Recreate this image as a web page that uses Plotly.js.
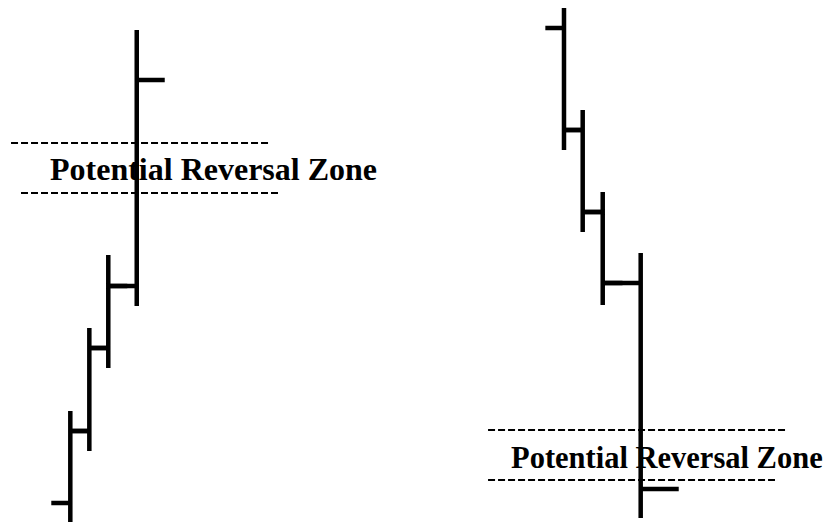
<!DOCTYPE html>
<html>
<head>
<meta charset="utf-8">
<script src="https://cdn.plot.ly/plotly-3.0.1.min.js"></script>
<style>html,body{margin:0;padding:0;background:#fff;}#chart{width:837px;height:522px;}</style>
</head>
<body>
<div id="chart"></div>
<script>
// Bar positions (time units) and prices (price units, higher = up)
const barX     = [0.924, 1.174, 1.423, 1.797, 7.412, 7.658, 7.921, 8.420];
const barOpen  = [19,    91,    174,   236,   494,   392,   310,   239];
const barHigh  = [111,   194,   267,   492,   514,   412,   330,   269];
const barLow   = [0,     71,    154,   216,   372,   290,   217,   4];
const barClose = [91,    174,   236,   442,   392,   310,   239,   33];

// Potential Reversal Zone levels (price) and their extents (time units)
const zoneUpper      = [379, 92];
const zoneLower      = [329, 42];
const zoneUpperStart = [0.145, 6.414];
const zoneUpperEnd   = [3.548, 10.317];
const zoneLowerStart = [0.276, 6.414];
const zoneLowerEnd   = [3.654, 10.185];
const zoneLabelX     = [2.804, 8.765];
const zoneLabelY     = [353, 64];
const zoneLabel      = ["Potential Reversal Zone", "Potential Reversal Zone"];

// style: tick width per bar (fraction of x unit)
const tickW = [0.25, 0.25, 0.25, 0.368, 0.245, 0.26, 0.26, 0.5];
const labelSize = [32, 30.5];

const traces = [];
for (let i = 0; i < barX.length; i++) {
  traces.push({
    type: 'ohlc',
    x: [barX[i]], open: [barOpen[i]], high: [barHigh[i]], low: [barLow[i]], close: [barClose[i]],
    tickwidth: tickW[i],
    increasing: {line: {color: '#000', width: 4.5}},
    decreasing: {line: {color: '#000', width: 4.5}},
    hoverinfo: 'none', showlegend: false
  });
}
for (let k = 0; k < zoneUpper.length; k++) {
  traces.push({type: 'scatter', mode: 'lines', x: [zoneUpperStart[k], zoneUpperEnd[k]], y: [zoneUpper[k], zoneUpper[k]],
    line: {color: '#000', width: 2, dash: '7px,3px'}, hoverinfo: 'none', showlegend: false});
  traces.push({type: 'scatter', mode: 'lines', x: [zoneLowerStart[k], zoneLowerEnd[k]], y: [zoneLower[k], zoneLower[k]],
    line: {color: '#000', width: 2, dash: '7px,3px'}, hoverinfo: 'none', showlegend: false});
}

const annotations = zoneLabel.map((t, k) => ({
  x: zoneLabelX[k], y: zoneLabelY[k], xref: 'x', yref: 'y', text: '<b>' + t + '</b>', showarrow: false,
  xanchor: 'center', yanchor: 'middle',
  font: {family: 'Liberation Serif, Times New Roman, serif', size: labelSize[k], color: '#000'}
}));

const layout = {
  width: 837, height: 522,
  margin: {l: 0, r: 0, t: 0, b: 0},
  paper_bgcolor: '#fff', plot_bgcolor: '#fff',
  xaxis: {range: [0, 11], visible: false, rangeslider: {visible: false}, fixedrange: true},
  yaxis: {range: [0, 522], visible: false, fixedrange: true},
  annotations: annotations,
  showlegend: false
};

Plotly.newPlot('chart', traces, layout, {staticPlot: true, displayModeBar: false});
</script>
</body>
</html>
